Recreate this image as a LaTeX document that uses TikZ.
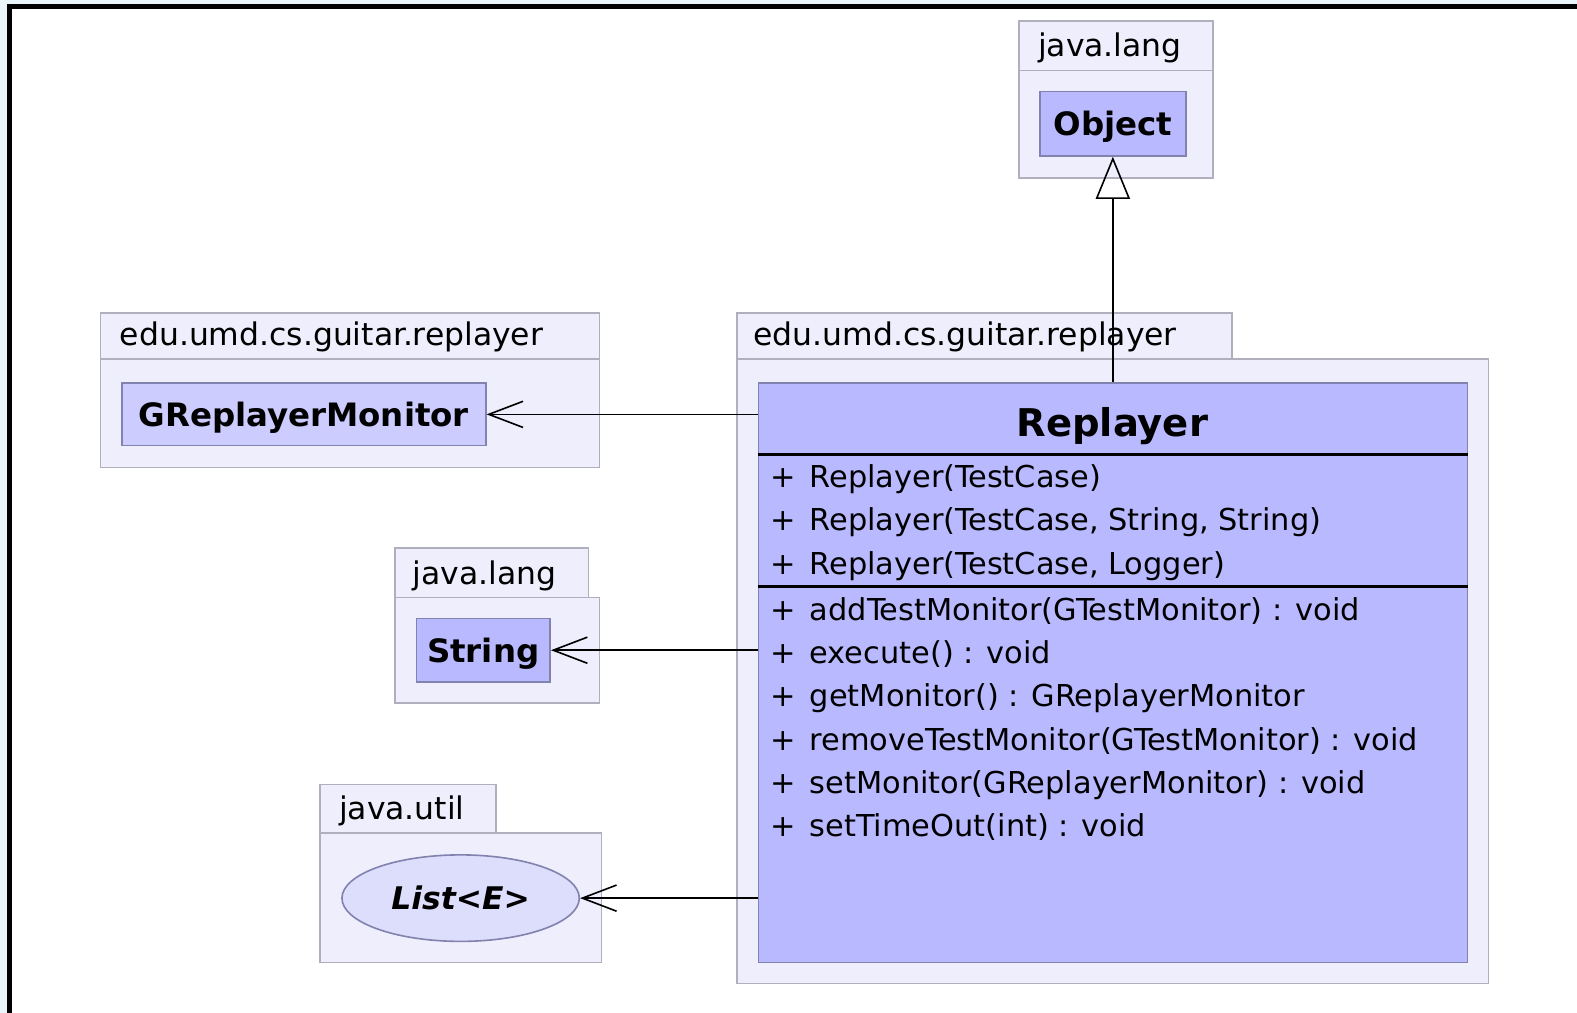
\documentclass[tikz,border=0pt]{standalone}
\usepackage{fontspec}
\setmainfont[FakeStretch=1.12]{DejaVu Sans Condensed}
\usetikzlibrary{arrows.meta,shapes.geometric}
\definecolor{outerbg}{RGB}{234,244,251}
\definecolor{pkgfill}{RGB}{238,238,252}
\definecolor{pkgline}{RGB}{175,175,190}
\definecolor{clsfill}{RGB}{185,185,255}
\definecolor{clsfillb}{RGB}{204,204,255}
\definecolor{clsline}{RGB}{130,130,175}
\definecolor{ellfill}{RGB}{221,221,252}
\tikzset{
  x=1pt, y=-1pt,
  pkg/.style={draw=pkgline, fill=pkgfill, line width=1.6pt},
  cls/.style={draw=clsline, fill=clsfill, line width=1.6pt, inner sep=0pt, text depth=0pt, font=\fontsize{32}{36}\selectfont\bfseries},
  pkglabel/.style={anchor=mid west, inner sep=0pt, font=\fontsize{31}{34}\selectfont},
  member/.style={anchor=mid west, inner sep=0pt, font=\fontsize{30}{34}\selectfont},
  dep/.style={line width=1.6pt, -{Straight Barb[length=34pt, width=26pt, line width=1.6pt]}},
  gen/.style={line width=1.6pt, -{Triangle[open, length=42pt, width=34pt, line width=1.6pt]}, shorten >=0pt},
}
\begin{document}
\begin{tikzpicture}
\useasboundingbox (0,0) rectangle (1568,1007);
% outer window frame
\fill[outerbg] (0,0) rectangle (1568,1007);
\fill[white] (10,7) rectangle (1568,1010);
\fill[black] (7,4) rectangle (1568,9);
\fill[black] (7,4) rectangle (12,1007);
\draw[pkgline!60, line width=1pt] (12,1010) -- (1568,1010);

% ---- java.lang (Object) package
\draw[pkg] (1013,21) rectangle (1206,177);
\draw[pkg] (1013,21) rectangle (1206,70);
\node[pkglabel] (plObj) at (1032,53) {java.lang};
\node[cls, minimum width=145pt, minimum height=64pt] (Object) at (1106.5,123) {Object};

% ---- edu.umd.cs.guitar.replayer (GReplayerMonitor)
\draw[pkg] (100,311) rectangle (596,465);
\draw[pkg] (100,311) rectangle (596,357);
\node[pkglabel] (plGRM) at (119,341) {edu.umd.cs.guitar.replayer};
\node[cls, fill=clsfillb, minimum width=362pt, minimum height=62pt] (GRM) at (302,412) {GReplayerMonitor};

% ---- java.lang (String)
\draw[pkg] (393,594) rectangle (596,699);
\draw[pkg] (393,545) rectangle (585,594);
\node[pkglabel] (plStr) at (410,578) {java.lang};
\node[cls, minimum width=133pt, minimum height=63pt] (String) at (480.5,646.5) {String};

% ---- java.util (List)
\draw[pkg] (318,828) rectangle (598,957);
\draw[pkg] (318,780) rectangle (493,828);
\node[pkglabel] (plList) at (337,812) {java.util};
\node[ellipse, draw=clsline, fill=ellfill, line width=1.6pt, minimum width=236pt, minimum height=86pt, inner sep=0pt,
      text depth=0pt, font=\fontsize{31}{36}\selectfont\bfseries\itshape] (List) at (458,893) {List<E>};

% ---- edu.umd.cs.guitar.replayer (Replayer)
\draw[pkg] (733,357) rectangle (1480,978);
\draw[pkg] (733,311) rectangle (1225,357);
\node[pkglabel] (plRep) at (749,341) {edu.umd.cs.guitar.replayer};
\node[cls, minimum width=705pt, minimum height=576pt] (Replayer) at (1106.5,669) {};
\node[font=\fontsize{38}{42}\selectfont\bfseries, inner sep=0pt, text depth=0pt] (RepName) at (1106,420) {Replayer};
\draw[line width=2.4pt] (Replayer.west |- 0,452) coordinate (s1a) -- (Replayer.east |- 0,452) coordinate (s1b);
\draw[line width=2.4pt] (Replayer.west |- 0,583) coordinate (s2a) -- (Replayer.east |- 0,583) coordinate (s2b);

\foreach \yy/\txt [count=\i] in {482/{Replayer(TestCase)},
                      525/{Replayer(TestCase, String, String)},
                      568/{Replayer(TestCase, Logger)},
                      614/{addTestMonitor(GTestMonitor) : void},
                      657/{execute() : void},
                      700/{getMonitor() : GReplayerMonitor},
                      743/{removeTestMonitor(GTestMonitor) : void},
                      786/{setMonitor(GReplayerMonitor) : void},
                      829/{setTimeOut(int) : void}} {
  \node[member] (vis\i) at (766,\yy) {+};
  \node[member] (mem\i) at (805,\yy) {\txt};
}

% ---- connectors
\draw[gen] (Replayer.north) -- (Object.south);
\draw[dep] (Replayer.west |- GRM.east) -- (GRM.east);
\draw[dep] (Replayer.west |- String.east) -- (String.east);
\draw[dep] (Replayer.west |- List.east) -- (List.east);
\end{tikzpicture}
\end{document}
